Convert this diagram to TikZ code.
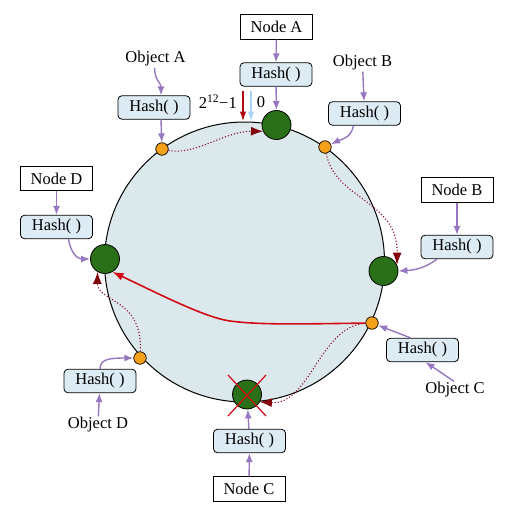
\documentclass[tikz,border=0pt]{standalone}
\usepackage{fontspec}
\setmainfont{Liberation Serif}
\usetikzlibrary{arrows.meta}
\definecolor{ringfill}{RGB}{219,233,237}
\definecolor{hashfill}{RGB}{221,236,244}
\definecolor{lav}{RGB}{150,118,190}
\definecolor{dgreen}{RGB}{42,112,24}
\definecolor{orng}{RGB}{244,160,24}
\definecolor{dred}{RGB}{140,10,40}
\definecolor{tipred}{RGB}{130,0,10}
\definecolor{brred}{RGB}{210,10,20}
\definecolor{lblue}{RGB}{170,212,250}
\begin{document}
\begin{tikzpicture}[x=1pt,y=-1pt,
  font=\fontsize{16.5}{19}\selectfont,
  hashbox/.style={draw, rounded corners=4pt, fill=hashfill, minimum width=72pt, minimum height=23.5pt, inner sep=0pt, line width=0.8pt},
  namebox/.style={draw, fill=white, minimum width=72pt, minimum height=24.5pt, inner sep=0pt, line width=0.8pt},
  lbl/.style={inner sep=1pt},
  ringnode/.style={circle, draw, fill=dgreen, minimum size=29pt, inner sep=0pt, line width=0.8pt},
  objdot/.style={circle, draw, fill=orng, minimum size=12.5pt, inner sep=0pt, line width=0.7pt},
  parr/.style={lav, line width=1.4pt, -{Latex[length=9pt,width=7pt]}},
  darr/.style={dred, dotted, line width=1.1pt, -{Latex[length=12pt,width=9pt,color=tipred]}},
  rarr/.style={brred, line width=1.6pt, -{Latex[length=11pt,width=8pt]}}
]
\useasboundingbox (0,0) rectangle (507,506);

% ring
\node[circle, draw, fill=ringfill, minimum size=280pt, inner sep=0pt, line width=1pt] (ring) at (244.5,262) {};

% nodes on ring
\node[ringnode] (nA) at (276.5,125) {};
\node[ringnode] (nB) at (383.5,271) {};
\node[ringnode] (nC) at (247,394.5) {};
\node[ringnode] (nD) at (105,259) {};

% objects on ring
\node[objdot] (oA) at (162,149) {};
\node[objdot] (oB) at (325,147) {};
\node[objdot] (oC) at (372,323) {};
\node[objdot] (oD) at (140,358) {};

% name boxes
\node[namebox] (NA) at (276.5,27) {Node A};
\node[namebox] (NB) at (457,190) {Node B};
\node[namebox] (NC) at (249,489) {Node C};
\node[namebox] (ND) at (56.5,178.5) {Node D};

% hash boxes for nodes
\node[hashbox] (hA) at (276,74.5) {Hash( )};
\node[hashbox] (hB) at (457,247) {Hash( )};
\node[hashbox] (hC) at (249.5,441) {Hash( )};
\node[hashbox] (hD) at (56.5,227) {Hash( )};

% hash boxes for objects
\node[hashbox] (hoA) at (154,107.5) {Hash( )};
\node[hashbox] (hoB) at (364.5,113.5) {Hash( )};
\node[hashbox] (hoC) at (422.5,350) {Hash( )};
\node[hashbox] (hoD) at (100,381) {Hash( )};

% object labels
\node[lbl] (OA) at (155.5,59) {Object A};
\node[lbl] (OB) at (362.5,63) {Object B};
\node[lbl] (OC) at (455,390) {Object C};
\node[lbl] (OD) at (98,425) {Object D};

% 2^12-1 and 0 labels
\node[lbl, anchor=east] (lmax) at (238,102) {2\textsuperscript{12}−1};
\node[lbl] (lzero) at (261,102) {0};
\coordinate (rs) at (243,91);
\coordinate (re) at (243,121.5);
\coordinate (bs) at (251,91);
\coordinate (be) at (251,121.5);
\draw[brred!85!black, line width=1.4pt, -{Latex[length=10pt,width=6.5pt]}] (rs) -- (re);
\draw[lblue, line width=1.4pt, -{Latex[length=10pt,width=6.5pt]}] (bs) -- (be);

% purple arrows: nodes
\draw[parr] (NA) -- (hA);
\draw[parr] (hA) -- (nA);
\draw[parr] (NB) -- (hB);
\draw[parr] ([xshift=-20pt]hB.south) .. controls (425,268) and (415,270) .. (nB.east);
\draw[parr] (NC) -- (hC);
\draw[parr] (hC) -- (nC);
\draw[parr] (ND) -- (hD);
\draw[parr] ([xshift=12pt]hD.south) .. controls (71,254) and (78,259) .. (nD.west);

% purple arrows: objects
\draw[parr] ([xshift=-1pt]OA.south) .. controls (155,82) and (161,82) .. ([xshift=7pt]hoA.north);
\draw[parr] ([xshift=7pt]hoA.south) -- (oA);
\draw[parr] (OB) -- (hoB);
\draw[parr] ([xshift=-11pt]hoB.south) .. controls (351,138) and (342,139) .. (oB);
\draw[parr] ([xshift=-1pt]OC.north) -- ([xshift=3pt]hoC.south);
\draw[parr] ([xshift=-12pt]hoC.north) -- (oC);
\draw[parr] (OD) -- (hoD);
\draw[parr] (hoD.north) .. controls (100,359) and (110,358) .. (oD.west);

% dotted assignment arrows
\draw[darr] (oA) .. controls (195,156) and (225,131) .. (nA.205);
\draw[darr] (oB) .. controls (335,200) and (398,200) .. (nB.25);
\draw[darr] (oC) .. controls (320,326) and (310,405) .. (nC.-30);
\draw[darr] (oD) .. controls (143,298) and (97,302) .. (nD.-120);

% red redistribution arrow
\coordinate (rmid) at (230,321);
\draw[rarr] (oC) .. controls (300,324) and (260,325) .. (rmid) .. controls (205,317.7) and (155,292) .. (nD.-60);

% cross over failed node C
\draw[brred, line width=1.2pt] ([shift={(-19,-19.5)}]nC.center) -- ([shift={(19,21.5)}]nC.center);
\draw[brred, line width=1.2pt] ([shift={(19,-19.5)}]nC.center) -- ([shift={(-19,21.5)}]nC.center);
\end{tikzpicture}
\end{document}
